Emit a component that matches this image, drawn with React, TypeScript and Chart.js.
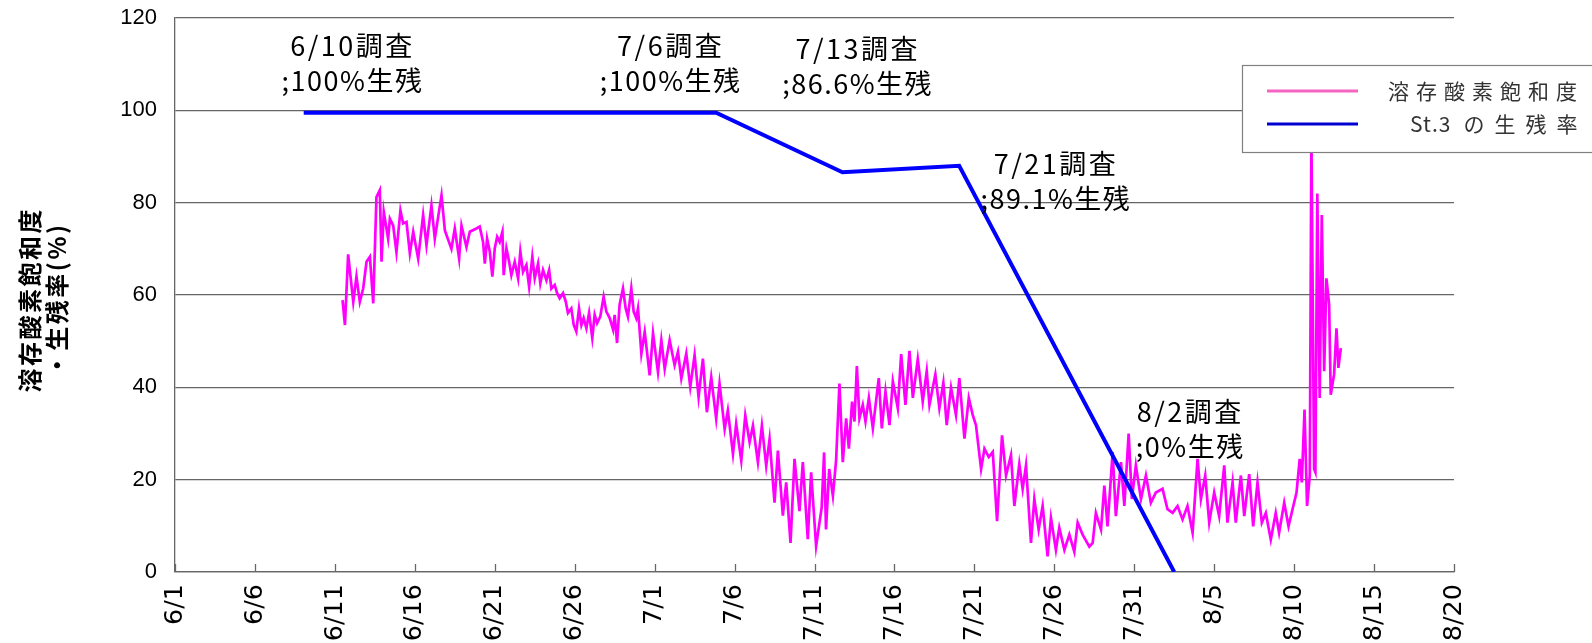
import React, { useEffect, useRef } from 'react';
import { Chart, registerables } from 'chart.js';

Chart.register(...registerables);

// x axis: days since 6/1 (day 0) ; ticks every 5 days
const xTickLabels = ['6/1', '6/6', '6/11', '6/16', '6/21', '6/26', '7/1', '7/6', '7/11', '7/16', '7/21', '7/26', '7/31', '8/5', '8/10', '8/15', '8/20'];
const yTicks = [0, 20, 40, 60, 80, 100, 120];

const seriesNames = ['溶存酸素飽和度', 'St.3 の生残率'];
const yTitleLines = ['溶存酸素飽和度', '・生残率(%)'];

// dissolved oxygen saturation (%)
const doDays = [
  10.48, 10.63, 10.83, 11.15, 11.35, 11.56, 11.77, 11.98, 12.19, 12.40, 12.60, 12.81, 12.92, 13.06, 13.33, 13.44, 13.65, 13.85,
  14.10, 14.27, 14.48, 14.69, 14.90, 15.21, 15.52, 15.73, 16.04, 16.25, 16.67, 16.88, 17.29, 17.50, 17.77, 17.92, 18.23, 18.44,
  18.85,
  19.06, 19.27, 19.38, 19.52, 19.69, 19.85, 20.00, 20.15, 20.31, 20.48, 20.56, 20.73, 20.90, 21.04, 21.25, 21.46, 21.60, 21.77,
  21.98, 22.15, 22.35, 22.50, 22.71, 22.85, 23.02, 23.23, 23.40, 23.54, 23.75, 23.90, 24.06, 24.27, 24.44, 24.58, 24.79, 24.94,
  25.10, 25.27, 25.42, 25.56, 25.73, 25.90, 26.10, 26.25, 26.40, 26.60, 26.81, 26.98, 27.19, 27.40, 27.50, 27.65, 27.81, 28.02,
  28.19, 28.33, 28.54, 28.69, 28.85,
  28.96, 29.17, 29.38, 29.69, 29.90, 30.21, 30.42, 30.63, 30.94, 31.25, 31.46, 31.67, 31.98, 32.23,
  32.50, 32.75, 33.02, 33.27, 33.54, 33.85, 34.06, 34.38, 34.58, 34.90, 35.10, 35.42, 35.67, 35.94, 36.15, 36.46, 36.71, 36.98,
  37.19, 37.50, 37.71, 38.02, 38.23, 38.50, 38.75, 39.06, 39.27, 39.58, 39.79, 40.10, 40.45, 40.60, 40.72, 40.92, 41.15, 41.35, 41.56,
  41.77, 41.98, 42.15, 42.35, 42.50, 42.65, 42.81, 43.02, 43.19, 43.40, 43.65, 44.02, 44.21, 44.44, 44.69, 44.90, 45.21, 45.42,
  45.69, 45.94, 46.15, 46.46, 46.77, 47.02, 47.19, 47.56, 47.81, 48.06, 48.27, 48.54, 48.85, 49.06, 49.38, 49.65, 49.90, 50.10,
  50.42, 50.63, 50.90, 51.15, 51.42, 51.73, 51.98, 52.29, 52.50, 52.81, 53.02, 53.23, 53.54, 53.75, 54.02, 54.27, 54.58, 54.79,
  55.10, 55.31, 55.63, 55.94, 56.25, 56.46, 56.77, 57.19,
  57.40, 57.60, 57.92, 58.13, 58.33, 58.65, 58.85, 59.17, 59.38, 59.65, 59.85, 60.10, 60.42, 60.73, 61.04, 61.35, 61.77, 62.08,
  62.40, 62.71, 63.02, 63.33, 63.65, 63.96, 64.17, 64.44, 64.69, 65.00, 65.31, 65.63, 65.83, 66.15, 66.35, 66.67, 66.88, 67.19,
  67.44, 67.71, 67.98, 68.23, 68.54, 68.85, 69.06, 69.38, 69.65, 69.90, 70.15, 70.35, 70.48, 70.65, 70.81, 70.98, 71.08, 71.25,
  71.33, 71.45, 71.60, 71.73, 71.88, 72.02, 72.19, 72.29, 72.50, 72.65, 72.77, 72.92,
];
const doValues = [
  58.9, 53.5, 68.8, 58.5, 64.0, 58.5, 61.4, 67.2, 68.3, 58.2, 81.2, 82.7, 67.2, 78.0, 72.2, 76.5, 75.0, 69.3,
  78.3, 75.5, 75.8, 69.0, 73.7, 67.9, 77.3, 70.8, 79.4, 72.2, 81.6, 74.0, 70.0, 74.4, 67.9, 75.0, 70.4, 73.7,
  74.4,
  74.8, 71.5, 66.8, 72.2, 69.4, 64.0, 70.1, 72.6, 71.5, 73.7, 64.3, 70.1, 67.2, 64.3, 67.2, 63.6, 69.4, 65.0,
  66.5, 61.8, 68.3, 63.6, 66.8, 62.5, 65.4, 63.2, 65.4, 61.4, 62.2, 60.4, 59.3, 60.4, 58.6, 56.1, 57.1, 53.5,
  52.1, 57.1, 53.5, 55.0, 52.8, 56.1, 50.7, 55.7, 53.9, 55.3, 59.6, 56.4, 55.0, 52.5, 55.7, 49.6, 57.9, 61.4,
  57.1, 55.3, 61.4, 56.4, 55.0,
  57.1, 47.3, 52.0, 42.6, 51.7, 43.3, 50.2, 44.0, 50.2, 44.8, 47.7, 41.9, 47.3, 40.1,
  47.0, 37.9, 46.2, 34.6, 42.2, 33.2, 40.8, 31.0, 35.0, 25.6, 32.1, 24.1, 33.9, 28.1, 31.7, 23.8, 31.7, 23.0,
  28.8, 15.0, 26.3, 12.2, 19.4, 6.3, 24.5, 13.2, 23.8, 7.1, 21.6, 5.6, 14.0, 25.9, 9.2, 22.3, 16.5, 24.1, 40.8,
  23.8, 33.3, 26.7, 36.9, 32.6, 44.6, 33.3, 36.2, 32.6, 37.7, 31.1, 42.0, 31.1, 39.1, 31.8, 41.3, 35.5, 47.2,
  36.2, 47.9, 37.7, 46.1, 36.9, 43.5, 36.2, 42.8, 35.5, 41.0, 31.8, 39.9, 34.0, 42.0, 28.9, 37.7, 34.0, 31.8,
  22.3, 26.7, 24.9, 26.0, 11.0, 29.6, 20.9, 25.3, 14.3, 23.4, 18.0, 23.1, 6.3, 15.8, 9.2, 14.3, 3.4, 11.7,
  4.8, 9.6, 4.8, 8.1, 4.4, 10.7, 8.1, 5.5,
  6.3, 12.8, 9.2, 18.7, 9.9, 26.0, 12.1, 23.8, 14.3, 30.0, 15.8, 23.1, 15.8, 20.9, 15.0, 17.2, 18.0, 13.6,
  12.8, 14.3, 11.4, 14.3, 8.5, 24.5, 15.8, 20.9, 10.7, 17.2, 12.1, 23.1, 10.7, 19.4, 10.7, 20.9, 12.1, 21.2,
  9.9, 19.4, 10.7, 12.8, 7.0, 12.8, 8.5, 15.0, 9.9, 13.6, 17.2, 24.5, 19.4, 35.2, 14.3, 20.9, 95.0, 22.3,
  21.6, 82.0, 37.7, 77.3, 43.5, 63.6, 57.9, 38.4, 42.8, 52.8, 44.2, 48.5,
];

// survival rate at St.3 (%)
const survDays = [8.05, 33.85, 41.75, 49.05, 62.5];
const survValues = [99.5, 99.5, 86.6, 88.0, 0];

// survey notes: anchor (day, value) is the centre of the two-line text block
const noteDays = [11.1, 31.0, 42.7, 55.1, 63.5];
const noteValues = [110.2, 110.1, 109.5, 84.7, 31.0];
const noteTitles = ['6/10調査', '7/6調査', '7/13調査', '7/21調査', '8/2調査'];
const noteRates = [';100%生残', ';100%生残', ';86.6%生残', ';89.1%生残', ';0%生残'];

const DO_COLOR = '#ff00ff';
const SURV_COLOR = '#0000ff';
const GRID_COLOR = '#666666';
const CJK_FONT = '"Noto Sans CJK JP", "Noto Sans", sans-serif';

function setSpacing(ctx: any, v: string) {
  try { ctx.letterSpacing = v; } catch (e) { /* ignore */ }
}

const innerTicksPlugin = {
  id: 'innerTicks',
  afterDraw(chart: any) {
    const { ctx, chartArea, scales } = chart;
    const xs = scales.x;
    ctx.save();
    ctx.strokeStyle = GRID_COLOR;
    ctx.lineWidth = 1.3;
    xs.ticks.forEach((t: any) => {
      const px = Math.round(xs.getPixelForValue(t.value)) + 0.5;
      ctx.beginPath();
      ctx.moveTo(px, chartArea.bottom);
      ctx.lineTo(px, chartArea.bottom - 8);
      ctx.stroke();
    });
    ctx.restore();
  },
};

const yTitlePlugin = {
  id: 'yTitle',
  afterDraw(chart: any) {
    const { ctx, chartArea } = chart;
    const cy = (chartArea.top + chartArea.bottom) / 2 + 6;
    ctx.save();
    ctx.fillStyle = '#000';
    ctx.font = `bold 24px ${CJK_FONT}`;
    ctx.textAlign = 'center';
    ctx.textBaseline = 'middle';
    setSpacing(ctx, '2.5px');
    const xs = [30, 57];
    yTitleLines.forEach((line, i) => {
      ctx.save();
      ctx.translate(xs[i], cy);
      ctx.rotate(-Math.PI / 2);
      ctx.fillText(line, 1.25, 0);
      ctx.restore();
    });
    ctx.restore();
  },
};

const notesPlugin = {
  id: 'notes',
  afterDatasetsDraw(chart: any) {
    const { ctx, scales } = chart;
    ctx.save();
    ctx.fillStyle = '#000';
    ctx.font = `27px ${CJK_FONT}`;
    ctx.textAlign = 'center';
    ctx.textBaseline = 'middle';
    noteDays.forEach((d, i) => {
      const x = scales.x.getPixelForValue(d);
      const y = scales.y.getPixelForValue(noteValues[i]);
      setSpacing(ctx, '2.5px');
      ctx.fillText(noteTitles[i], x, y - 17.5);
      setSpacing(ctx, '1.5px');
      ctx.fillText(noteRates[i], x, y + 17.5);
    });
    ctx.restore();
  },
};

const legendPlugin = {
  id: 'boxLegend',
  afterDraw(chart: any) {
    const { ctx } = chart;
    const bx = 1242, by = 65, bw = 400, bh = 87;
    ctx.save();
    ctx.fillStyle = '#ffffff';
    ctx.fillRect(bx, by, bw, bh);
    ctx.strokeStyle = '#808080';
    ctx.lineWidth = 1.2;
    ctx.strokeRect(bx + 0.5, by + 0.5, bw, bh);

    const rowY = [91, 124];
    const colors = ['#f564c0', '#0000d0'];
    rowY.forEach((y, i) => {
      ctx.strokeStyle = colors[i];
      ctx.lineWidth = 3;
      ctx.beginPath();
      ctx.moveTo(1267, y);
      ctx.lineTo(1358, y);
      ctx.stroke();
    });

    ctx.fillStyle = '#333333';
    ctx.font = `21px ${CJK_FONT}`;
    ctx.textAlign = 'left';
    ctx.textBaseline = 'middle';
    setSpacing(ctx, '7px');
    ctx.fillText(seriesNames[0], 1388, rowY[0]);
    const [latin, rest] = seriesNames[1].split(' ');
    setSpacing(ctx, '1px');
    ctx.fillText(latin, 1410, rowY[1]);
    const w = ctx.measureText(latin).width;
    setSpacing(ctx, '10px');
    ctx.fillText(rest, 1410 + w + 12, rowY[1]);
    ctx.restore();
  },
};

export default function App() {
  const canvasRef = useRef<HTMLCanvasElement | null>(null);

  useEffect(() => {
    document.body.style.margin = '0';
    const canvas = canvasRef.current;
    if (!canvas) return;

    const doData = doDays.map((d, i) => ({ x: d, y: doValues[i] }));
    const survData = survDays.map((d, i) => ({ x: d, y: survValues[i] }));

    const chart = new Chart(canvas, {
      type: 'line',
      data: {
        datasets: [
          {
            label: seriesNames[1],
            data: survData,
            borderColor: SURV_COLOR,
            backgroundColor: SURV_COLOR,
            borderWidth: 4,
            pointRadius: 0,
            tension: 0,
            order: 0,
          },
          {
            label: seriesNames[0],
            data: doData,
            borderColor: DO_COLOR,
            backgroundColor: DO_COLOR,
            borderWidth: 2.7,
            pointRadius: 0,
            tension: 0,
            order: 1,
          },
        ],
      },
      options: {
        responsive: false,
        animation: false,
        events: [],
        layout: { padding: { left: 0, top: 18, right: 138, bottom: 0 } },
        plugins: {
          legend: { display: false },
          tooltip: { enabled: false },
          title: { display: false },
        },
        scales: {
          x: {
            type: 'linear',
            min: 0,
            max: 80,
            afterBuildTicks: (s: any) => {
              s.ticks = xTickLabels.map((_, i) => ({ value: i * 5 }));
            },
            afterFit: (s: any) => {
              s.height = 71;
              s.paddingLeft = 0;
              s.paddingRight = 0;
            },
            grid: { display: false, drawTicks: false },
            border: { display: true, color: GRID_COLOR, width: 1.3 },
            ticks: {
              autoSkip: false,
              maxRotation: 90,
              minRotation: 90,
              padding: 12,
              color: '#000',
              font: { family: '"DejaVu Sans", sans-serif', size: 25.5 },
              callback: (v: any) => xTickLabels[Math.round(Number(v) / 5)] ?? '',
            },
          },
          y: {
            type: 'linear',
            min: 0,
            max: 120,
            afterBuildTicks: (s: any) => {
              s.ticks = yTicks.map((v) => ({ value: v }));
            },
            afterFit: (s: any) => {
              s.width = 175;
              s.paddingTop = 0;
              s.paddingBottom = 0;
            },
            grid: { display: true, drawTicks: false, color: GRID_COLOR, lineWidth: 1.3 },
            border: { display: true, color: GRID_COLOR, width: 1.3 },
            ticks: {
              padding: 18,
              color: '#000',
              font: { family: '"Liberation Sans", Arial, sans-serif', size: 22 },
            },
            title: { display: false },
          },
        },
      },
      plugins: [innerTicksPlugin, notesPlugin, yTitlePlugin, legendPlugin],
    } as any);

    return () => chart.destroy();
  }, []);

  return (
    <div style={{ width: 1592, height: 643, position: 'relative', overflow: 'hidden', background: '#fff' }}>
      <canvas ref={canvasRef} width={1592} height={643} style={{ display: 'block' }} />
    </div>
  );
}
